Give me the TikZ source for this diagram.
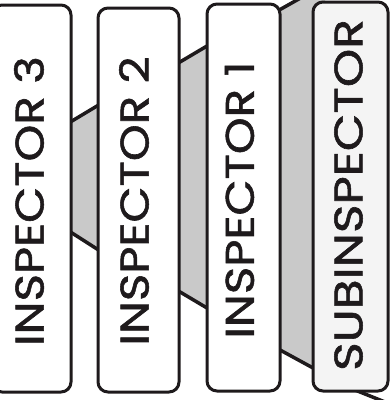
\documentclass[tikz,border=0pt]{standalone}
\usepackage{fontspec}
\setmainfont{Poppins}
\newfontfamily\lblfont{Poppins}[FakeBold=1.3]
\definecolor{ink}{HTML}{1E1A1C}
\definecolor{wall}{HTML}{C9C9C9}
\definecolor{lastbox}{HTML}{F4F4F4}
\tikzset{
  inspbox/.style={draw=ink, line width=3pt, rounded corners=10pt, fill=white},
  wallfill/.style={fill=wall, draw=none},
  wallline/.style={draw=ink, line width=3.5pt},
  lbl/.style={rotate=90, text=ink, inner sep=0pt, font=\lblfont\fontsize{40}{40}\selectfont}
}
\begin{document}
\begin{tikzpicture}[x=1pt,y=-1pt]
\useasboundingbox (0,0) rectangle (390,400);
\clip (0,0) rectangle (390,400);
% walls (behind the boxes)
\fill[wallfill] (60,128.2) -- (110,98.2) -- (110,257.3) -- (60,225.3) -- cycle;
\draw[wallline] (60,128.2) coordinate (t12a) -- (110,98.2) coordinate (t12b);
\draw[wallline] (60,225.3) coordinate (b12a) -- (110,257.3) coordinate (b12b);
\fill[wallfill] (170,67.9) -- (220,38.3) -- (220,315.7) -- (170,286) -- cycle;
\draw[wallline] (170,67.9) coordinate (t23a) -- (220,38.3) coordinate (t23b);
\draw[wallline] (170,286) coordinate (b23a) -- (220,315.7) coordinate (b23b);
\fill[wallfill] (270,15.2) -- (325,-15.75) -- (325,374.5) -- (270,344.5) -- cycle;
\draw[wallline] (270,15.2) coordinate (t34a) -- (325,-15.75) coordinate (t34b);
\draw[wallline] (270,344.5) coordinate (b34a) -- (325,374.5) coordinate (b34b);
\draw[wallline] (330,380) coordinate (b45a) -- (400,408) coordinate (b45b);
% boxes
\draw[inspbox] (-8,5) rectangle (71,392);
\draw[inspbox] (98,8) rectangle (179,392);
\draw[inspbox] (207,4) rectangle (280,391);
\draw[inspbox, fill=lastbox] (313,2) rectangle (388,391);
% labels
\node[lbl] (l3) at (29,201) {\scalebox{1.17}[1]{INSPECTOR 3}};
\node[lbl] (l2) at (134,201) {\scalebox{1.17}[1]{INSPECTOR 2}};
\node[lbl] (l1) at (239.5,200) {\scalebox{1.17}[1]{INSPECTOR 1}};
\node[lbl] (l0) at (348.5,195) {\scalebox{1.22}[1]{SUBINSPECTOR}};
\end{tikzpicture}
\end{document}
